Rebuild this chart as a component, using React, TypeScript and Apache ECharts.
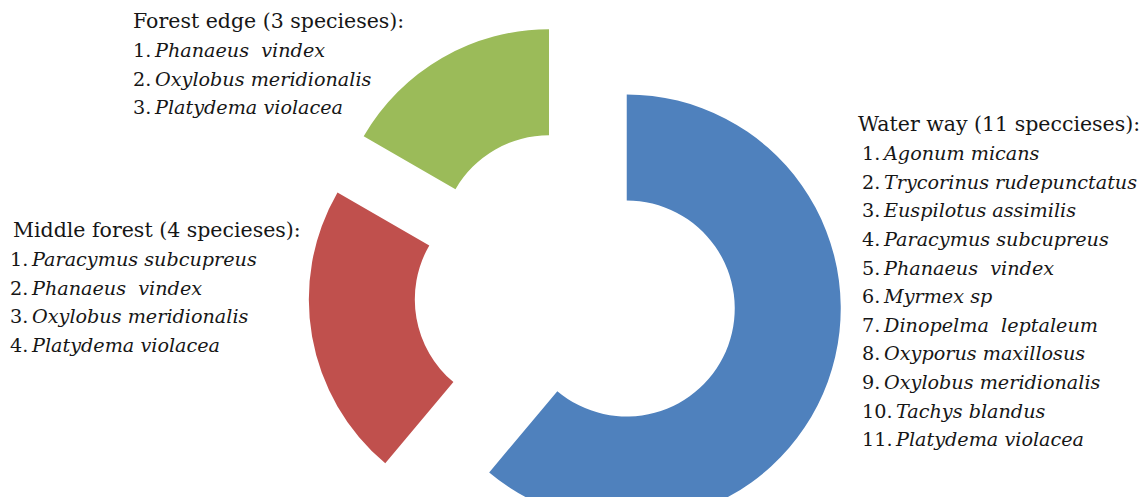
import React, { useEffect, useRef } from "react";
import * as echarts from "echarts";

const habitats = ["Water way", "Middle forest", "Forest edge"];
const speciesCounts = [11, 4, 3];
const colors = ["#4F81BD", "#C0504D", "#9BBB59"];

const titleWaterWay = "Water way (11 speccieses):";
const speciesWaterWay = [
  "Agonum micans",
  "Trycorinus rudepunctatus",
  "Euspilotus assimilis",
  "Paracymus subcupreus",
  "Phanaeus  vindex",
  "Myrmex sp",
  "Dinopelma  leptaleum",
  "Oxyporus maxillosus",
  "Oxylobus meridionalis",
  "Tachys blandus",
  "Platydema violacea",
];

const titleMiddle = "Middle forest (4 specieses):";
const speciesMiddle = [
  "Paracymus subcupreus",
  "Phanaeus  vindex",
  "Oxylobus meridionalis",
  "Platydema violacea",
];

const titleEdge = "Forest edge (3 specieses):";
const speciesEdge = [
  "Phanaeus  vindex",
  "Oxylobus meridionalis",
  "Platydema violacea",
];

const FONT = "'DejaVu Serif', serif";
const FS_TITLE = 20.5;
const FS_ITEM = 19.2;
const LH = 28.6;
const INK = "#161616";

function block(title: string, items: string[], x: number, y: number, ix: number) {
  const children: any[] = [];
  children.push({
    type: "text",
    x,
    y,
    style: {
      text: title,
      fontFamily: FONT,
      fontSize: FS_TITLE,
      fill: INK,
      verticalAlign: "middle",
      align: "left",
    },
  });
  items.forEach((s, i) => {
    children.push({
      type: "text",
      x: ix,
      y: y + LH * (i + 1) + 1,
      style: {
        text: `{n|${i + 1}.\u00a0}{s|${s}}`,
        verticalAlign: "middle",
        align: "left",
        rich: {
          n: { fontFamily: FONT, fontSize: FS_ITEM, fill: INK, width: i >= 9 ? 34 : 22 },
          s: { fontFamily: FONT, fontSize: FS_ITEM, fontStyle: "italic", fill: INK },
        },
      },
    });
  });
  return { type: "group", children };
}

export default function App() {
  const ref = useRef<HTMLDivElement>(null);
  useEffect(() => {
    document.body.style.margin = "0";
    if (!ref.current) return;
    const chart = echarts.init(ref.current, undefined, { renderer: "svg" });
    chart.setOption({
      animation: false,
      backgroundColor: "#ffffff",
      series: [
        {
          type: "pie",
          center: [576, 290],
          radius: [108, 214],
          startAngle: 90,
          clockwise: true,
          selectedMode: "multiple",
          selectedOffset: 54,
          silent: true,
          label: { show: false },
          labelLine: { show: false },
          emphasis: { disabled: true },
          itemStyle: { borderWidth: 0 },
          data: habitats.map((h, i) => ({
            name: h,
            value: speciesCounts[i],
            selected: true,
            itemStyle: { color: colors[i] },
            select: { itemStyle: { color: colors[i] } },
          })),
        },
      ],
      graphic: [
        block(titleEdge, speciesEdge, 133, 21, 133),
        block(titleMiddle, speciesMiddle, 13, 230, 10),
        block(titleWaterWay, speciesWaterWay, 858, 124, 862),
      ],
    });
    return () => chart.dispose();
  }, []);
  return <div ref={ref} style={{ width: 1145, height: 497 }} />;
}
